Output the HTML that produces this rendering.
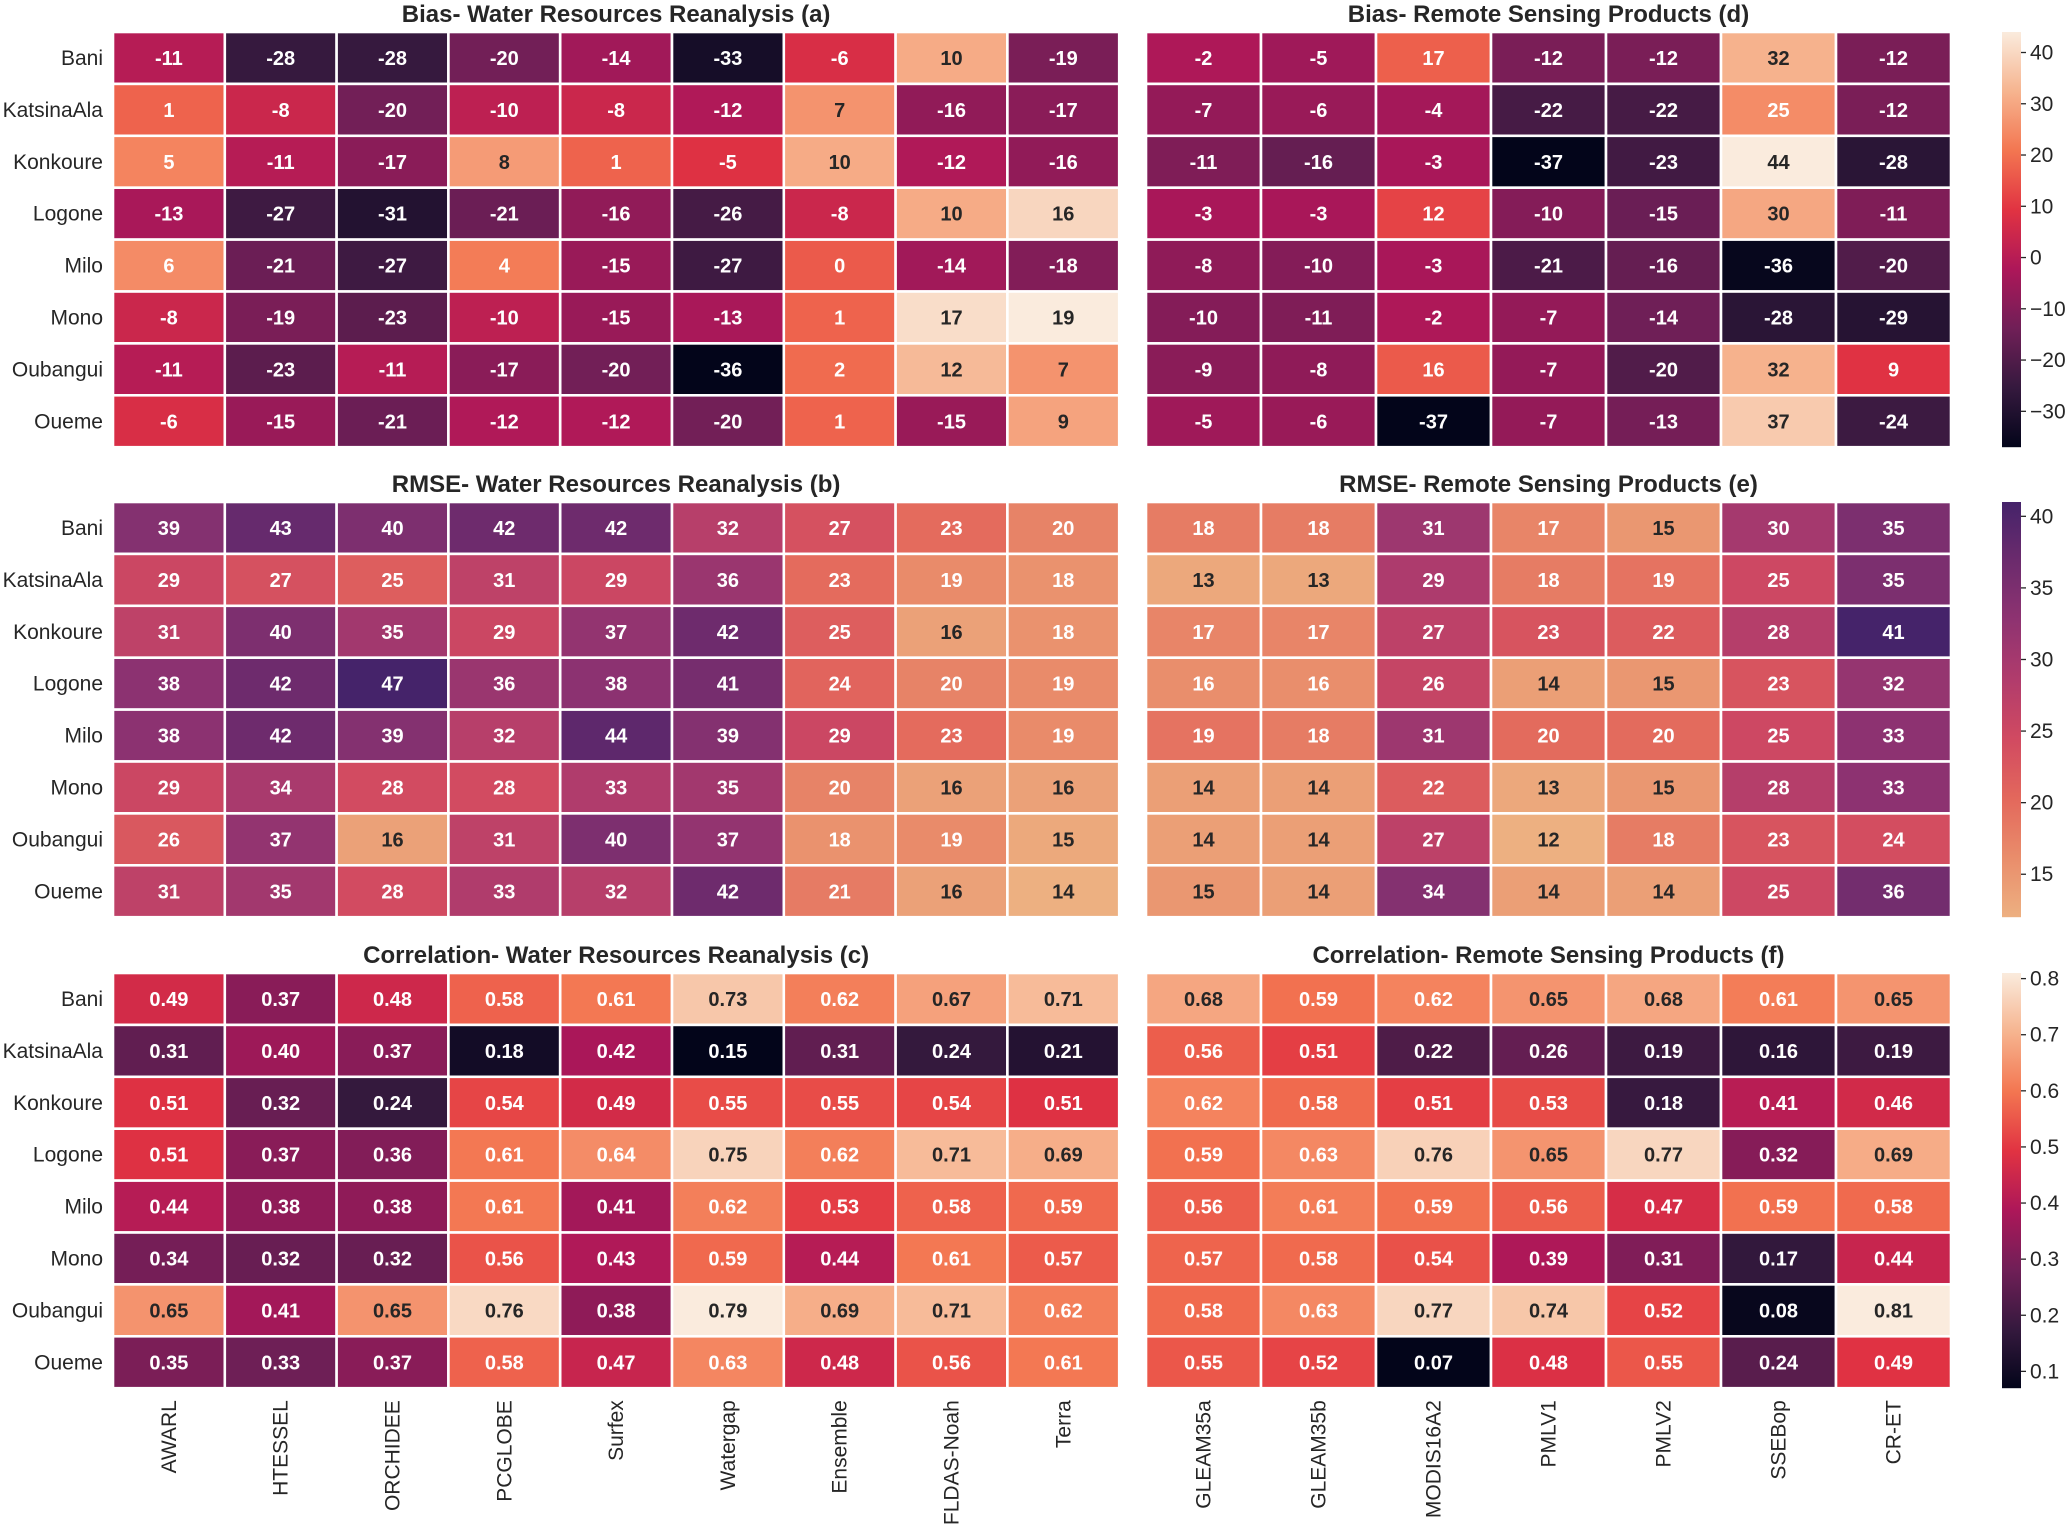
<!DOCTYPE html>
<html><head><meta charset="utf-8">
<style>
html,body{margin:0;padding:0;background:#fff;}
svg{display:block;font-family:"Liberation Sans",Arial,sans-serif;}
</style></head>
<body>
<svg id="fig" width="2067" height="1528" viewBox="0 0 2067 1528" xmlns="http://www.w3.org/2000/svg">
<defs>
<linearGradient id="rocketGrad" x1="0" y1="1" x2="0" y2="0">
<stop offset="0" stop-color="#03051A"/><stop offset="0.1429" stop-color="#35193e"/><stop offset="0.2857" stop-color="#701f57"/><stop offset="0.4286" stop-color="#ad1759"/><stop offset="0.5714" stop-color="#e13342"/><stop offset="0.7143" stop-color="#f37651"/><stop offset="0.8571" stop-color="#f6b48f"/><stop offset="1" stop-color="#FAEBDD"/>
</linearGradient>
<linearGradient id="flareGrad" x1="0" y1="1" x2="0" y2="0">
<stop offset="0" stop-color="#EDB081"/><stop offset="0.1429" stop-color="#E98D6B"/><stop offset="0.2857" stop-color="#E3685C"/><stop offset="0.4286" stop-color="#D14A61"/><stop offset="0.5714" stop-color="#B13C6C"/><stop offset="0.7143" stop-color="#8F3371"/><stop offset="0.8571" stop-color="#6C2B6D"/><stop offset="1" stop-color="#45236A"/>
</linearGradient>
</defs>
</svg>
<script>
const rows = ["Bani","KatsinaAla","Konkoure","Logone","Milo","Mono","Oubangui","Oueme"];
const colsLeft = ["AWARL","HTESSEL","ORCHIDEE","PCGLOBE","Surfex","Watergap","Ensemble","FLDAS-Noah","Terra"];
const colsRight = ["GLEAM35a","GLEAM35b","MODIS16A2","PMLV1","PMLV2","SSEBop","CR-ET"];

const biasLeft = [
[-11,-28,-28,-20,-14,-33,-6,10,-19],
[1,-8,-20,-10,-8,-12,7,-16,-17],
[5,-11,-17,8,1,-5,10,-12,-16],
[-13,-27,-31,-21,-16,-26,-8,10,16],
[6,-21,-27,4,-15,-27,0,-14,-18],
[-8,-19,-23,-10,-15,-13,1,17,19],
[-11,-23,-11,-17,-20,-36,2,12,7],
[-6,-15,-21,-12,-12,-20,1,-15,9]];
const biasRight = [
[-2,-5,17,-12,-12,32,-12],
[-7,-6,-4,-22,-22,25,-12],
[-11,-16,-3,-37,-23,44,-28],
[-3,-3,12,-10,-15,30,-11],
[-8,-10,-3,-21,-16,-36,-20],
[-10,-11,-2,-7,-14,-28,-29],
[-9,-8,16,-7,-20,32,9],
[-5,-6,-37,-7,-13,37,-24]];
const rmseLeft = [
[39,43,40,42,42,32,27,23,20],
[29,27,25,31,29,36,23,19,18],
[31,40,35,29,37,42,25,16,18],
[38,42,47,36,38,41,24,20,19],
[38,42,39,32,44,39,29,23,19],
[29,34,28,28,33,35,20,16,16],
[26,37,16,31,40,37,18,19,15],
[31,35,28,33,32,42,21,16,14]];
const rmseRight = [
[18,18,31,17,15,30,35],
[13,13,29,18,19,25,35],
[17,17,27,23,22,28,41],
[16,16,26,14,15,23,32],
[19,18,31,20,20,25,33],
[14,14,22,13,15,28,33],
[14,14,27,12,18,23,24],
[15,14,34,14,14,25,36]];
const corrLeft = [
[0.49,0.37,0.48,0.58,0.61,0.73,0.62,0.67,0.71],
[0.31,0.40,0.37,0.18,0.42,0.15,0.31,0.24,0.21],
[0.51,0.32,0.24,0.54,0.49,0.55,0.55,0.54,0.51],
[0.51,0.37,0.36,0.61,0.64,0.75,0.62,0.71,0.69],
[0.44,0.38,0.38,0.61,0.41,0.62,0.53,0.58,0.59],
[0.34,0.32,0.32,0.56,0.43,0.59,0.44,0.61,0.57],
[0.65,0.41,0.65,0.76,0.38,0.79,0.69,0.71,0.62],
[0.35,0.33,0.37,0.58,0.47,0.63,0.48,0.56,0.61]];
const corrRight = [
[0.68,0.59,0.62,0.65,0.68,0.61,0.65],
[0.56,0.51,0.22,0.26,0.19,0.16,0.19],
[0.62,0.58,0.51,0.53,0.18,0.41,0.46],
[0.59,0.63,0.76,0.65,0.77,0.32,0.69],
[0.56,0.61,0.59,0.56,0.47,0.59,0.58],
[0.57,0.58,0.54,0.39,0.31,0.17,0.44],
[0.58,0.63,0.77,0.74,0.52,0.08,0.81],
[0.55,0.52,0.07,0.48,0.55,0.24,0.49]];
const biasTicks = [40,30,20,10,0,-10,-20,-30];
const rmseTicks = [40,35,30,25,20,15];
const corrTicks = [0.8,0.7,0.6,0.5,0.4,0.3,0.2,0.1];

const rocket = ["#03051A","#35193e","#701f57","#ad1759","#e13342","#f37651","#f6b48f","#FAEBDD"];
const flare = ["#EDB081","#E98D6B","#E3685C","#D14A61","#B13C6C","#8F3371","#6C2B6D","#45236A"];
function hex(h){return [parseInt(h.slice(1,3),16),parseInt(h.slice(3,5),16),parseInt(h.slice(5,7),16)];}
function cmap(stops,t){t=Math.max(0,Math.min(1,t));const n=stops.length-1;const i=Math.min(n-1,Math.floor(t*n));const f=t*n-i;const a=hex(stops[i]),b=hex(stops[i+1]);return a.map((v,k)=>Math.round(v+(b[k]-v)*f));}
function lum(c){const l=c.map(v=>{v/=255;return v<=0.03928?v/12.92:Math.pow((v+0.055)/1.055,2.4);});return 0.2126*l[0]+0.7152*l[1]+0.0722*l[2];}
const NS="http://www.w3.org/2000/svg";
const svg=document.getElementById('fig');
function mk(tag,attrs,parent){const e=document.createElementNS(NS,tag);for(const k in attrs)e.setAttribute(k,attrs[k]);(parent||svg).appendChild(e);return e;}

const rowTops=[32,502,973];
const cellH=51.9;
const leftX0=113, leftW=111.8, rightX0=1146, rightW=115;
const titles=[["Bias- Water Resources Reanalysis (a)","Bias- Remote Sensing Products (d)"],["RMSE- Water Resources Reanalysis (b)","RMSE- Remote Sensing Products (e)"],["Correlation- Water Resources Reanalysis (c)","Correlation- Remote Sensing Products (f)"]];
const sets=[[biasLeft,biasRight,rocket,biasTicks,"rocketGrad",0],[rmseLeft,rmseRight,flare,rmseTicks,"flareGrad",0],[corrLeft,corrRight,rocket,corrTicks,"rocketGrad",2]];
const names=["bias","rmse","correlation"];

function drawPanel(data,cols,x0,cw,y0,stops,dec,pname,title,showRows,showCols){
  const g=mk('g',{});
  
  
  let mn=Infinity,mx=-Infinity;data.forEach(r=>r.forEach(v=>{mn=Math.min(mn,v);mx=Math.max(mx,v);}));
  const xs=j=>x0+j*cw, ys=i=>y0+i*cellH;
  data.forEach((r,i)=>r.forEach((v,j)=>{
    const c=cmap(stops,(v-mn)/(mx-mn));
    const rc=mk('rect',{x:xs(j),y:ys(i),width:cw,height:cellH,fill:`rgb(${c})`,stroke:'#fff','stroke-width':2.6},g);
    
    
    const t=mk('text',{x:xs(j)+cw/2,y:ys(i)+cellH/2+7,'text-anchor':'middle','font-size':20,'font-weight':'bold',fill:lum(c)>0.408?'#262626':'#fff'},g);
    t.textContent=dec?v.toFixed(dec):String(v);
    
    
  }));
  const tt=mk('text',{x:x0+cw*cols.length/2,y:y0-10,'text-anchor':'middle','font-size':24,'font-weight':'bold',fill:'#262626'});
  tt.textContent=title;
  
  
  if(showRows){rows.forEach((r,i)=>{const t=mk('text',{x:103,y:ys(i)+cellH/2+7,'text-anchor':'end','font-size':21,fill:'#262626'});t.textContent=r;
    
    });}
  if(showCols){cols.forEach((c,j)=>{const cx=xs(j)+cw/2+7,cy=y0+8*cellH+12;const t=mk('text',{x:cx,y:cy,'text-anchor':'end','font-size':21,fill:'#262626',transform:`rotate(-90 ${cx} ${cy})`});t.textContent=c;
    
    });}
  return [mn,mx];
}
sets.forEach((s,k)=>{
  const y0=rowTops[k];
  drawPanel(s[0],colsLeft,leftX0,leftW,y0,s[2],s[5],names[k]+'-reanalysis',titles[k][0],true,k==2);
  const [mn,mx]=drawPanel(s[1],colsRight,rightX0,rightW,y0,s[2],s[5],names[k]+'-remote',titles[k][1],false,k==2);
  const H=8*cellH, bx=2002, bw=19;
  const cb=mk('rect',{x:bx,y:y0,width:bw,height:H,fill:`url(#${s[4]})`});
  
  
  const ys=v=>y0+H-(v-mn)/(mx-mn)*H;
  s[3].forEach(tv=>{
    const y=ys(tv);
    mk('line',{x1:bx+bw,x2:bx+bw+5,y1:y,y2:y,stroke:'#262626','stroke-width':1.3});
    const t=mk('text',{x:bx+bw+9,y:y+7,'font-size':21,fill:'#262626'});
    t.textContent=(s[5]?tv.toFixed(1):String(tv)).replace('-','\u2212');
    
    
  });
});
</script>
</body></html>
